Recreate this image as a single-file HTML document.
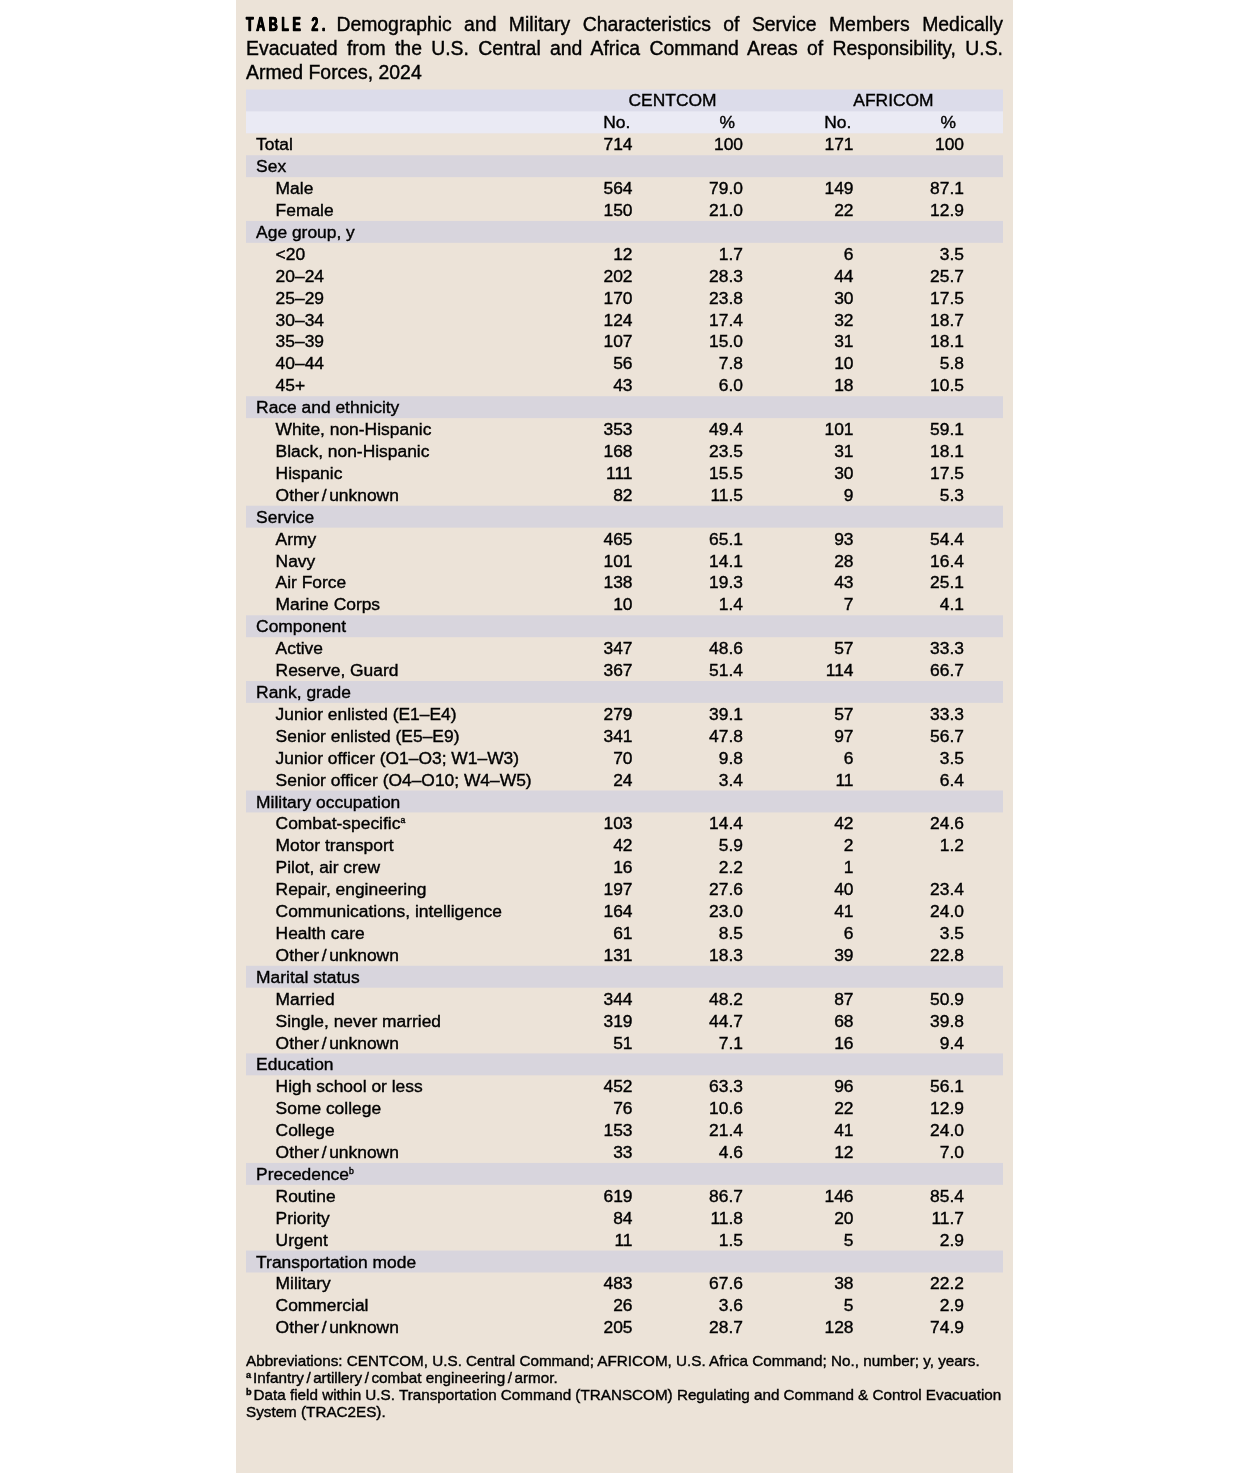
<!DOCTYPE html>
<html lang="en">
<head>
<meta charset="utf-8">
<title>TABLE 2</title>
<style>
html,body{margin:0;padding:0;background:#fff;}
body{width:1250px;height:1473px;position:relative;overflow:hidden;font-family:"Liberation Sans",Arial,sans-serif;color:#000;}
#panel{position:absolute;left:236px;top:0;width:777px;height:1473px;background:#ece3d8;}
#title{position:absolute;left:246px;top:0;width:757px;height:88px;font-size:19.4px;line-height:24px;margin:0;font-weight:normal;}
#title span{position:absolute;left:0;width:757px;height:24px;white-space:nowrap;text-align:justify;text-align-last:justify;transform:scaleY(1.0);transform-origin:0 19px;}
#title span.last{text-align:left;text-align-last:left;}
#title b{display:inline-block;font-weight:bold;letter-spacing:5.6px;transform:scaleX(0.64);transform-origin:0 50%;width:80px;margin-right:10.4px;white-space:nowrap;text-align:left;text-align-last:left;text-shadow:0.7px 0 #000,-0.7px 0 #000;}
#tbl{position:absolute;left:246px;top:0;width:757px;font-size:17.42px;line-height:22px;}
.st{position:absolute;left:0;width:757px;}
.r{position:absolute;left:0;width:757px;height:22px;white-space:nowrap;transform:scaleY(0.94);transform-origin:0 17px;}
.r span{position:absolute;top:0;}
.l{left:10.1px;}
.l.s{left:29.6px;}
.n{width:100px;text-align:right;}
.n1{left:286.5px;} .n2{left:397px;} .n3{left:507.5px;} .n4{left:618px;}
.c{width:110.5px;text-align:center;}
.l i{font-style:normal;padding:0 2.6px;}
sup{font-size:0.6em;line-height:0;vertical-align:baseline;position:relative;top:-0.52em;}
.r sup{position:relative;font-size:8.7px;top:-5.6px;}
#fn{position:absolute;left:246px;top:0;width:765px;font-size:15.24px;line-height:17px;}
#fn p{margin:0;position:absolute;left:0;white-space:nowrap;height:17px;transform:scaleY(0.98);transform-origin:0 14px;}
#fn sup{font-weight:bold;margin-right:2px;}
#fn i{font-style:normal;padding:0 2.5px;}
#title span,#tbl .r,#fn p{-webkit-text-stroke:0.4px #000;filter:blur(0.25px);}
</style>
</head>
<body>
<div id="panel"></div>
<h1 id="title"><span style="top:12px"><b>TABLE 2.</b>Demographic and Military Characteristics of Service Members Medically</span> <span style="top:36px">Evacuated from the U.S. Central and Africa Command Areas of Responsibility, U.S.</span> <span class="last" style="top:60px">Armed Forces, 2024</span></h1>
<div id="tbl">
<div class="st" style="top:90px;height:22px;background:rgb(220,220,234)"></div>
<div class="st" style="top:89px;height:1px;background:rgba(220,220,234,0.50)"></div>
<div class="st" style="top:112px;height:21px;background:rgb(234,234,244)"></div>
<div class="st" style="top:111px;height:1px;background:rgba(234,234,244,0.59)"></div>
<div class="st" style="top:133px;height:1px;background:rgba(234,234,244,0.31)"></div>
<div class="st" style="top:156px;height:21px;background:rgb(216,213,221)"></div>
<div class="st" style="top:155px;height:1px;background:rgba(216,213,221,0.78)"></div>
<div class="st" style="top:177px;height:1px;background:rgba(216,213,221,0.13)"></div>
<div class="st" style="top:221px;height:21px;background:rgb(216,213,221)"></div>
<div class="st" style="top:220px;height:1px;background:rgba(216,213,221,0.06)"></div>
<div class="st" style="top:242px;height:1px;background:rgba(216,213,221,0.85)"></div>
<div class="st" style="top:397px;height:21px;background:rgb(216,213,221)"></div>
<div class="st" style="top:396px;height:1px;background:rgba(216,213,221,0.80)"></div>
<div class="st" style="top:418px;height:1px;background:rgba(216,213,221,0.10)"></div>
<div class="st" style="top:506px;height:21px;background:rgb(216,213,221)"></div>
<div class="st" style="top:505px;height:1px;background:rgba(216,213,221,0.27)"></div>
<div class="st" style="top:527px;height:1px;background:rgba(216,213,221,0.64)"></div>
<div class="st" style="top:616px;height:21px;background:rgb(216,213,221)"></div>
<div class="st" style="top:615px;height:1px;background:rgba(216,213,221,0.73)"></div>
<div class="st" style="top:637px;height:1px;background:rgba(216,213,221,0.18)"></div>
<div class="st" style="top:681px;height:21px;background:rgb(216,213,221)"></div>
<div class="st" style="top:702px;height:1px;background:rgba(216,213,221,0.90)"></div>
<div class="st" style="top:791px;height:21px;background:rgb(216,213,221)"></div>
<div class="st" style="top:790px;height:1px;background:rgba(216,213,221,0.48)"></div>
<div class="st" style="top:812px;height:1px;background:rgba(216,213,221,0.43)"></div>
<div class="st" style="top:966px;height:21px;background:rgb(216,213,221)"></div>
<div class="st" style="top:965px;height:1px;background:rgba(216,213,221,0.22)"></div>
<div class="st" style="top:987px;height:1px;background:rgba(216,213,221,0.69)"></div>
<div class="st" style="top:1054px;height:21px;background:rgb(216,213,221)"></div>
<div class="st" style="top:1053px;height:1px;background:rgba(216,213,221,0.59)"></div>
<div class="st" style="top:1075px;height:1px;background:rgba(216,213,221,0.31)"></div>
<div class="st" style="top:1163px;height:21px;background:rgb(216,213,221)"></div>
<div class="st" style="top:1162px;height:1px;background:rgba(216,213,221,0.06)"></div>
<div class="st" style="top:1184px;height:1px;background:rgba(216,213,221,0.85)"></div>
<div class="st" style="top:1251px;height:21px;background:rgb(216,213,221)"></div>
<div class="st" style="top:1250px;height:1px;background:rgba(216,213,221,0.43)"></div>
<div class="st" style="top:1272px;height:1px;background:rgba(216,213,221,0.48)"></div>
<div class="r" style="top:89px"><span class="c" style="left:316px;width:221px">CENTCOM</span><span class="c" style="left:537px;width:221px">AFRICOM</span></div>
<div class="r" style="top:111px"><span class="c" style="left:315.5px">No.</span><span class="c" style="left:426px">%</span><span class="c" style="left:536.5px">No.</span><span class="c" style="left:647px">%</span></div>
<div class="r" style="top:133px"><span class="l">Total</span><span class="n n1">714</span><span class="n n2">100</span><span class="n n3">171</span><span class="n n4">100</span></div>
<div class="r" style="top:155px"><span class="l">Sex</span></div>
<div class="r" style="top:177px"><span class="l s">Male</span><span class="n n1">564</span><span class="n n2">79.0</span><span class="n n3">149</span><span class="n n4">87.1</span></div>
<div class="r" style="top:199px"><span class="l s">Female</span><span class="n n1">150</span><span class="n n2">21.0</span><span class="n n3">22</span><span class="n n4">12.9</span></div>
<div class="r" style="top:221px"><span class="l">Age group, y</span></div>
<div class="r" style="top:243px"><span class="l s">&lt;20</span><span class="n n1">12</span><span class="n n2">1.7</span><span class="n n3">6</span><span class="n n4">3.5</span></div>
<div class="r" style="top:265px"><span class="l s">20–24</span><span class="n n1">202</span><span class="n n2">28.3</span><span class="n n3">44</span><span class="n n4">25.7</span></div>
<div class="r" style="top:287px"><span class="l s">25–29</span><span class="n n1">170</span><span class="n n2">23.8</span><span class="n n3">30</span><span class="n n4">17.5</span></div>
<div class="r" style="top:309px"><span class="l s">30–34</span><span class="n n1">124</span><span class="n n2">17.4</span><span class="n n3">32</span><span class="n n4">18.7</span></div>
<div class="r" style="top:330px"><span class="l s">35–39</span><span class="n n1">107</span><span class="n n2">15.0</span><span class="n n3">31</span><span class="n n4">18.1</span></div>
<div class="r" style="top:352px"><span class="l s">40–44</span><span class="n n1">56</span><span class="n n2">7.8</span><span class="n n3">10</span><span class="n n4">5.8</span></div>
<div class="r" style="top:374px"><span class="l s">45+</span><span class="n n1">43</span><span class="n n2">6.0</span><span class="n n3">18</span><span class="n n4">10.5</span></div>
<div class="r" style="top:396px"><span class="l">Race and ethnicity</span></div>
<div class="r" style="top:418px"><span class="l s">White, non-Hispanic</span><span class="n n1">353</span><span class="n n2">49.4</span><span class="n n3">101</span><span class="n n4">59.1</span></div>
<div class="r" style="top:440px"><span class="l s">Black, non-Hispanic</span><span class="n n1">168</span><span class="n n2">23.5</span><span class="n n3">31</span><span class="n n4">18.1</span></div>
<div class="r" style="top:462px"><span class="l s">Hispanic</span><span class="n n1">111</span><span class="n n2">15.5</span><span class="n n3">30</span><span class="n n4">17.5</span></div>
<div class="r" style="top:484px"><span class="l s">Other<i>/</i>unknown</span><span class="n n1">82</span><span class="n n2">11.5</span><span class="n n3">9</span><span class="n n4">5.3</span></div>
<div class="r" style="top:506px"><span class="l">Service</span></div>
<div class="r" style="top:528px"><span class="l s">Army</span><span class="n n1">465</span><span class="n n2">65.1</span><span class="n n3">93</span><span class="n n4">54.4</span></div>
<div class="r" style="top:550px"><span class="l s">Navy</span><span class="n n1">101</span><span class="n n2">14.1</span><span class="n n3">28</span><span class="n n4">16.4</span></div>
<div class="r" style="top:571px"><span class="l s">Air Force</span><span class="n n1">138</span><span class="n n2">19.3</span><span class="n n3">43</span><span class="n n4">25.1</span></div>
<div class="r" style="top:593px"><span class="l s">Marine Corps</span><span class="n n1">10</span><span class="n n2">1.4</span><span class="n n3">7</span><span class="n n4">4.1</span></div>
<div class="r" style="top:615px"><span class="l">Component</span></div>
<div class="r" style="top:637px"><span class="l s">Active</span><span class="n n1">347</span><span class="n n2">48.6</span><span class="n n3">57</span><span class="n n4">33.3</span></div>
<div class="r" style="top:659px"><span class="l s">Reserve, Guard</span><span class="n n1">367</span><span class="n n2">51.4</span><span class="n n3">114</span><span class="n n4">66.7</span></div>
<div class="r" style="top:681px"><span class="l">Rank, grade</span></div>
<div class="r" style="top:703px"><span class="l s">Junior enlisted (E1–E4)</span><span class="n n1">279</span><span class="n n2">39.1</span><span class="n n3">57</span><span class="n n4">33.3</span></div>
<div class="r" style="top:725px"><span class="l s">Senior enlisted (E5–E9)</span><span class="n n1">341</span><span class="n n2">47.8</span><span class="n n3">97</span><span class="n n4">56.7</span></div>
<div class="r" style="top:747px"><span class="l s">Junior officer (O1–O3; W1–W3)</span><span class="n n1">70</span><span class="n n2">9.8</span><span class="n n3">6</span><span class="n n4">3.5</span></div>
<div class="r" style="top:769px"><span class="l s">Senior officer (O4–O10; W4–W5)</span><span class="n n1">24</span><span class="n n2">3.4</span><span class="n n3">11</span><span class="n n4">6.4</span></div>
<div class="r" style="top:791px"><span class="l">Military occupation</span></div>
<div class="r" style="top:812px"><span class="l s">Combat-specific<sup>a</sup></span><span class="n n1">103</span><span class="n n2">14.4</span><span class="n n3">42</span><span class="n n4">24.6</span></div>
<div class="r" style="top:834px"><span class="l s">Motor transport</span><span class="n n1">42</span><span class="n n2">5.9</span><span class="n n3">2</span><span class="n n4">1.2</span></div>
<div class="r" style="top:856px"><span class="l s">Pilot, air crew</span><span class="n n1">16</span><span class="n n2">2.2</span><span class="n n3">1</span><span class="n n4"></span></div>
<div class="r" style="top:878px"><span class="l s">Repair, engineering</span><span class="n n1">197</span><span class="n n2">27.6</span><span class="n n3">40</span><span class="n n4">23.4</span></div>
<div class="r" style="top:900px"><span class="l s">Communications, intelligence</span><span class="n n1">164</span><span class="n n2">23.0</span><span class="n n3">41</span><span class="n n4">24.0</span></div>
<div class="r" style="top:922px"><span class="l s">Health care</span><span class="n n1">61</span><span class="n n2">8.5</span><span class="n n3">6</span><span class="n n4">3.5</span></div>
<div class="r" style="top:944px"><span class="l s">Other<i>/</i>unknown</span><span class="n n1">131</span><span class="n n2">18.3</span><span class="n n3">39</span><span class="n n4">22.8</span></div>
<div class="r" style="top:966px"><span class="l">Marital status</span></div>
<div class="r" style="top:988px"><span class="l s">Married</span><span class="n n1">344</span><span class="n n2">48.2</span><span class="n n3">87</span><span class="n n4">50.9</span></div>
<div class="r" style="top:1010px"><span class="l s">Single, never married</span><span class="n n1">319</span><span class="n n2">44.7</span><span class="n n3">68</span><span class="n n4">39.8</span></div>
<div class="r" style="top:1032px"><span class="l s">Other<i>/</i>unknown</span><span class="n n1">51</span><span class="n n2">7.1</span><span class="n n3">16</span><span class="n n4">9.4</span></div>
<div class="r" style="top:1053px"><span class="l">Education</span></div>
<div class="r" style="top:1075px"><span class="l s">High school or less</span><span class="n n1">452</span><span class="n n2">63.3</span><span class="n n3">96</span><span class="n n4">56.1</span></div>
<div class="r" style="top:1097px"><span class="l s">Some college</span><span class="n n1">76</span><span class="n n2">10.6</span><span class="n n3">22</span><span class="n n4">12.9</span></div>
<div class="r" style="top:1119px"><span class="l s">College</span><span class="n n1">153</span><span class="n n2">21.4</span><span class="n n3">41</span><span class="n n4">24.0</span></div>
<div class="r" style="top:1141px"><span class="l s">Other<i>/</i>unknown</span><span class="n n1">33</span><span class="n n2">4.6</span><span class="n n3">12</span><span class="n n4">7.0</span></div>
<div class="r" style="top:1163px"><span class="l">Precedence<sup>b</sup></span></div>
<div class="r" style="top:1185px"><span class="l s">Routine</span><span class="n n1">619</span><span class="n n2">86.7</span><span class="n n3">146</span><span class="n n4">85.4</span></div>
<div class="r" style="top:1207px"><span class="l s">Priority</span><span class="n n1">84</span><span class="n n2">11.8</span><span class="n n3">20</span><span class="n n4">11.7</span></div>
<div class="r" style="top:1229px"><span class="l s">Urgent</span><span class="n n1">11</span><span class="n n2">1.5</span><span class="n n3">5</span><span class="n n4">2.9</span></div>
<div class="r" style="top:1251px"><span class="l">Transportation mode</span></div>
<div class="r" style="top:1272px"><span class="l s">Military</span><span class="n n1">483</span><span class="n n2">67.6</span><span class="n n3">38</span><span class="n n4">22.2</span></div>
<div class="r" style="top:1294px"><span class="l s">Commercial</span><span class="n n1">26</span><span class="n n2">3.6</span><span class="n n3">5</span><span class="n n4">2.9</span></div>
<div class="r" style="top:1316px"><span class="l s">Other<i>/</i>unknown</span><span class="n n1">205</span><span class="n n2">28.7</span><span class="n n3">128</span><span class="n n4">74.9</span></div>
</div>
<div id="fn">
<p style="top:1352px">Abbreviations: CENTCOM, U.S. Central Command; AFRICOM, U.S. Africa Command; No., number; y, years.</p>
<p style="top:1369px"><sup>a</sup>Infantry<i>/</i>artillery<i>/</i>combat engineering<i>/</i>armor.</p>
<p style="top:1386px"><sup>b</sup>Data field within U.S. Transportation Command (TRANSCOM) Regulating and Command &amp; Control Evacuation</p>
<p style="top:1403px">System (TRAC2ES).</p>
</div>
</body>
</html>
